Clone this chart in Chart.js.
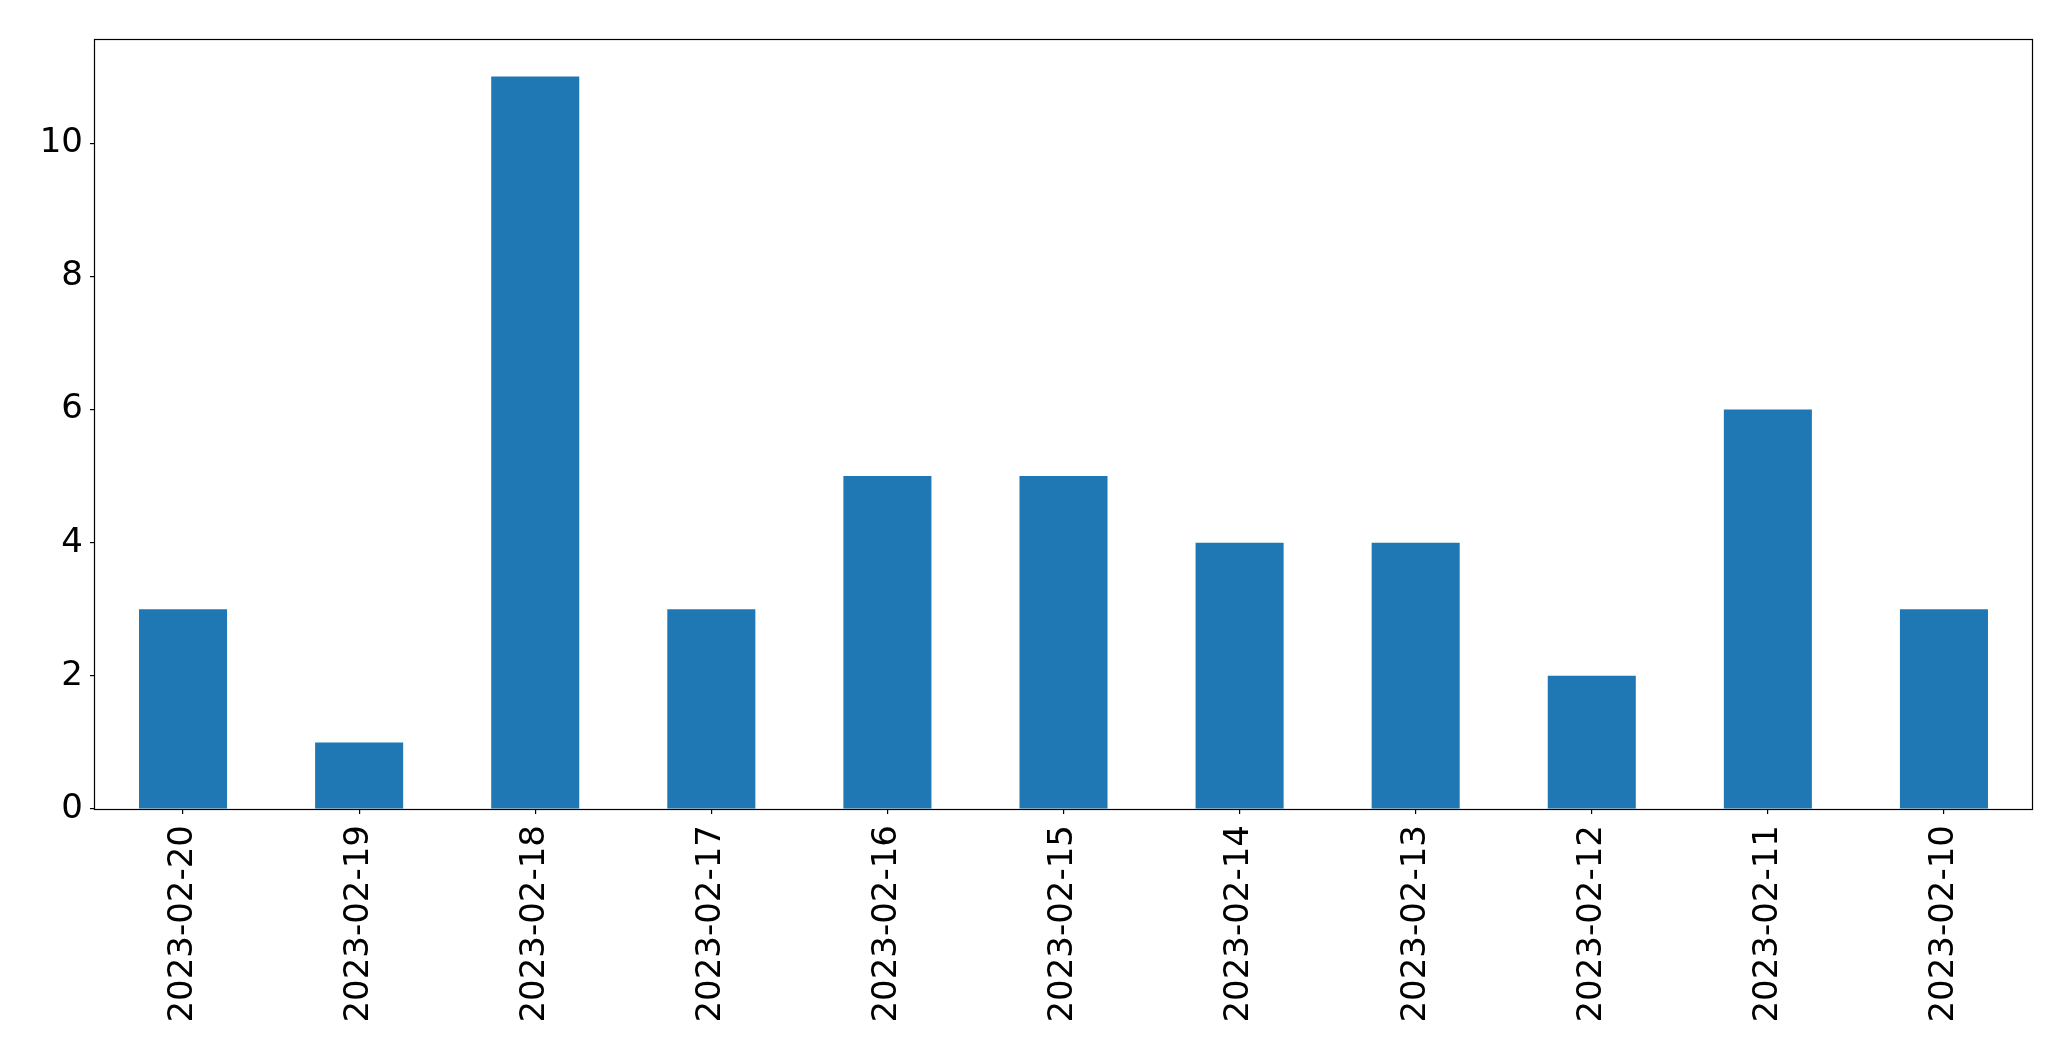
<!DOCTYPE html>
<html lang="en">
<head>
  <meta charset="UTF-8" />
  <title>Daily counts</title>
  <script src="https://cdn.jsdelivr.net/npm/chart.js"></script>
  <style>
    html, body { margin: 0; padding: 0; background: #fff; }
    #wrap { width: 2071px; height: 1061px; }
  </style>
</head>
<body>
<div id="wrap"><canvas id="chart" width="2071" height="1061"></canvas></div>
<script>
  const dates = ["2023-02-20", "2023-02-19", "2023-02-18", "2023-02-17", "2023-02-16", "2023-02-15",
                 "2023-02-14", "2023-02-13", "2023-02-12", "2023-02-11", "2023-02-10"];
  const counts = [3, 1, 11, 3, 5, 5, 4, 4, 2, 6, 3];
  const yTicks = [0, 2, 4, 6, 8, 10];

  // box around the plot area, like matplotlib's spines
  const frame = {
    id: 'frame',
    afterDraw(chart) {
      const { ctx, chartArea: a } = chart;
      const l = Math.round(a.left) - 0.5, t = Math.round(a.top) - 0.5;
      const r = Math.round(a.right) + 0.5, b = Math.round(a.bottom) + 0.5;
      ctx.save();
      ctx.strokeStyle = '#000';
      ctx.lineWidth = 1.2;
      ctx.strokeRect(l, t, r - l, b - t);
      ctx.restore();
    }
  };

  Chart.defaults.font.family = "'DejaVu Sans', sans-serif";
  Chart.defaults.color = '#000';

  new Chart(document.getElementById('chart').getContext('2d'), {
    type: 'bar',
    data: {
      labels: dates,
      datasets: [{
        data: counts,
        backgroundColor: '#1f77b4',
        barPercentage: 0.5,
        categoryPercentage: 1.0
      }]
    },
    options: {
      responsive: false,
      animation: false,
      layout: { padding: { top: 40, right: 39, left: 0, bottom: 0 } },
      plugins: { legend: { display: false }, tooltip: { enabled: false } },
      scales: {
        x: {
          offset: true,
          border: { display: false },
          grid: { offset: false, drawOnChartArea: false, tickLength: 5, color: '#000', lineWidth: 1.2 },
          ticks: { font: { size: 34 }, minRotation: 90, maxRotation: 90, padding: 11, autoSkip: false },
          afterFit: (s) => { s.height = 252; }
        },
        y: {
          min: 0,
          max: 11.55,
          border: { display: false },
          grid: { drawOnChartArea: false, tickLength: 5, color: '#000', lineWidth: 1.2 },
          ticks: { font: { size: 34 }, padding: 7 },
          afterBuildTicks: (s) => { s.ticks = yTicks.map(v => ({ value: v })); },
          afterFit: (s) => { s.width = 95; }
        }
      }
    },
    plugins: [frame]
  });
</script>
</body>
</html>
